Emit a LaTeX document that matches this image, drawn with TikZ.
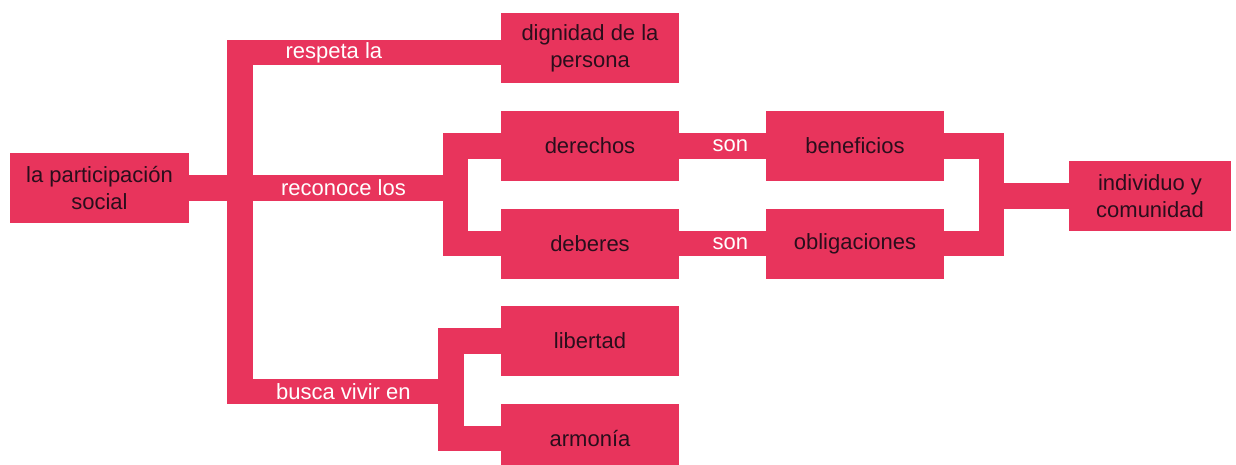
\documentclass[tikz,border=0pt]{standalone}
\usepackage{fontspec}
\setmainfont{Liberation Sans}
\usepackage{xcolor}
\usepackage{tikz}
\definecolor{rosa}{RGB}{232,52,92}
\definecolor{tinta}{RGB}{42,14,28}
\tikzstyle{concepto} = [rectangle, minimum width=178pt, minimum height=70pt, align=center, inner sep=0pt, fill=rosa, text=tinta]
\tikzstyle{enlace} = [draw=rosa, line width=25.5pt]
\tikzstyle{verbo} = [text=white, inner sep=0pt]

\begin{document}
\begin{tikzpicture}[x=1pt, y=-1pt, node distance=97.5pt, font=\fontsize{22}{26.5}\selectfont]
		\useasboundingbox (0,0) rectangle (1236,465);
		\node (part) [concepto, minimum width=179pt] at (99.5,188) {la participación\\social};
		\node (derechos) [concepto] at (590,146) {derechos};
		\node (dignidad) [concepto, above of=derechos] {dignidad de la\\persona};
		\node (deberes) [concepto, below of=derechos] {deberes};
		\node (libertad) [concepto, below of=deberes] {libertad};
		\node (armonia) [concepto, below of=libertad] {armonía};
		\node (beneficios) [concepto, right of=derechos, node distance=265pt] {beneficios};
		\node (obligaciones) [concepto, right of=deberes, node distance=265pt] {obligaciones};
		\node (individuo) [concepto, minimum width=162pt] at (1150,196) {individuo y\\comunidad};
		% troncos
		\coordinate (t1) at (240,52.5);
		\coordinate (t2) at (240,391.5);
		\coordinate (r) at (455.5,188);
		\coordinate (b) at (451,391.5);
		\coordinate (c) at (991.5,196);
		\draw[enlace] (part.east) -- (part.east -| t1);
		\draw[enlace] ([yshift=-4pt]dignidad.west) -- node[verbo, pos=.64] {respeta la} (t1) -- (t2) -- node[verbo, pos=.49] {busca vivir en} (b);
		\draw[enlace] (part.east -| t1) -- node[verbo, pos=.48] {reconoce los} (r);
		\draw[enlace] (derechos.west) -| (r) |- (deberes.west);
		\draw[enlace] (libertad.west) -| (b) |- (armonia.west);
		\draw[enlace] (derechos.east) -- node[verbo, pos=.59] {son} (beneficios.west);
		\draw[enlace] (deberes.east) -- node[verbo, pos=.59] {son} (obligaciones.west);
		\draw[enlace] (beneficios.east) -| (c) |- (obligaciones.east);
		\draw[enlace] (c) -- (individuo.west);
	\end{tikzpicture}
\end{document}
